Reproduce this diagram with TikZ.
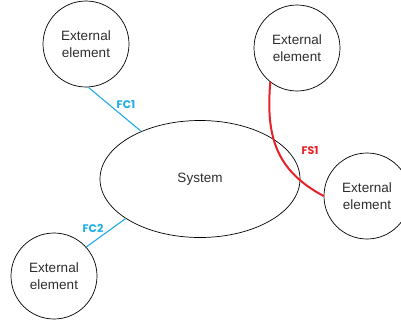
\documentclass[tikz,border=0pt]{standalone}
\usepackage{fontspec}
\setmainfont{Liberation Sans}
\newfontfamily\flowfont{Poppins}
\usepackage{xcolor}
\usetikzlibrary{shapes.geometric,positioning}

\definecolor{flowblue}{RGB}{30,172,228}
\definecolor{flowred}{RGB}{232,32,40}
\definecolor{textgrey}{RGB}{45,45,45}

\begin{document}
\begin{tikzpicture}[
        x=1pt, y=-1pt,
        element/.style={circle, draw, line width=0.7pt, minimum size=86pt, inner sep=0pt, align=center, text=textgrey, font=\fontsize{13.5}{17}\selectfont},
        system/.style={ellipse, draw, line width=0.7pt, minimum width=200pt, minimum height=117pt, text=textgrey, font=\fontsize{13.5}{17}\selectfont},
        fcline/.style={draw=flowblue, line width=1.1pt},
        fsline/.style={draw=flowred, line width=2pt},
        fclabel/.style={text=flowblue, font=\flowfont\bfseries\fontsize{11}{12}\selectfont},
        fslabel/.style={text=flowred, font=\flowfont\bfseries\fontsize{11}{12}\selectfont}
    ]
    \useasboundingbox (0,0) rectangle (401,322);

    \node [system] (sys) at (200,179) {System};

    \node [element] (ext1) at (86,44) {External\\element};
    \node [element] (ext2) at (297,48) {External\\element};
    \node [element] (ext3) at (367,196) {External\\element};
    \node [element] (ext4) at (54,276) {External\\element};

    % flows
    \path [fcline] (ext1.-87) -- (sys.141);
    \path [fcline] (ext4.42) -- (sys.208);
    \path [fsline] (ext2.232) to[out=-95, in=152, looseness=1.1] (ext3.180);

    \node [fclabel] (fc1) at (126,105) {FC1};
    \node [fclabel] (fc2) at (93,228) {FC2};
    \node [fslabel] (fs1) at (310,151) {FS1};

\end{tikzpicture}
\end{document}
